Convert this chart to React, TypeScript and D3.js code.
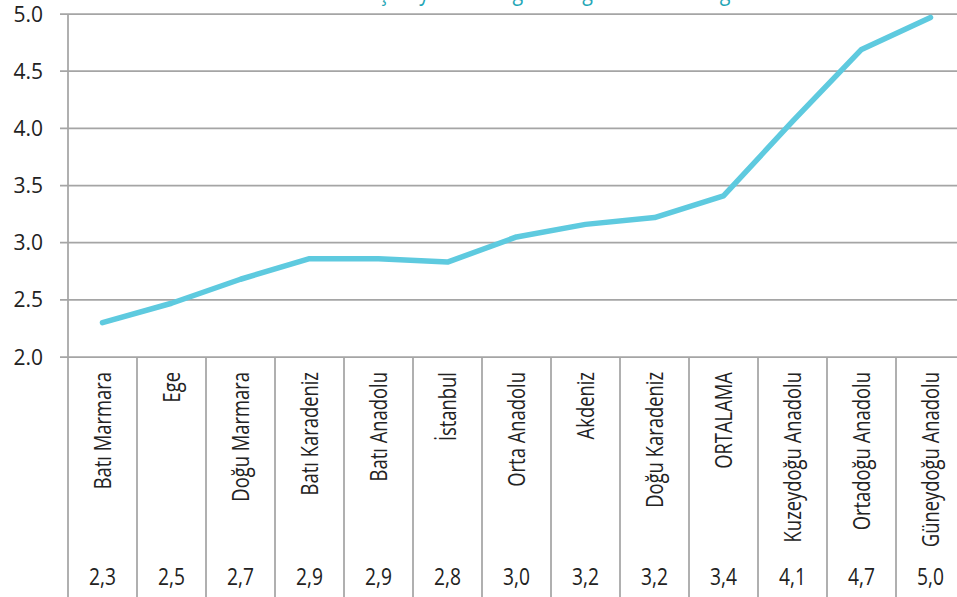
import React from "react";
import * as d3 from "d3";

const categories = [
  "Batı Marmara", "Ege", "Doğu Marmara", "Batı Karadeniz", "Batı Anadolu", "İstanbul",
  "Orta Anadolu", "Akdeniz", "Doğu Karadeniz", "ORTALAMA", "Kuzeydoğu Anadolu",
  "Ortadoğu Anadolu", "Güneydoğu Anadolu",
];
const values = [2.30, 2.47, 2.68, 2.86, 2.86, 2.83, 3.05, 3.16, 3.22, 3.41, 4.06, 4.69, 4.97];
const valueLabels = ["2,3", "2,5", "2,7", "2,9", "2,9", "2,8", "3,0", "3,2", "3,2", "3,4", "4,1", "4,7", "5,0"];
const yTicks = [2.0, 2.5, 3.0, 3.5, 4.0, 4.5, 5.0];
const title = "Kadınların İş Hayatı ve Bölgesel Algı Ortalama Değeri";

const W = 957;
const H = 597;

export default function App() {
  const x = d3.scaleBand<string>().domain(categories).range([68, 68 + 69 * categories.length]).padding(0);
  const y = d3.scaleLinear().domain([2, 5]).range([357, 14]);
  const line = d3
    .line<number>()
    .x((_, i) => (x(categories[i]) as number) + x.bandwidth() / 2)
    .y((d) => y(d));
  const grid = "#a5a5a5";
  const font = "'Open Sans', 'Noto Sans', sans-serif";
  return (
    <svg
      width={W}
      height={H}
      style={{ position: "fixed", left: 0, top: 0, background: "#fff" }}
      fontFamily={font}
    >
      <text x={515} y={0} textAnchor="middle" fontSize={24} fill="#1fa6b6" transform="translate(515,0) scale(0.82,1) translate(-515,0)">
        {title}
      </text>
      {yTicks.map((t) => (
        <g key={t}>
          <line x1={60} x2={W} y1={y(t)} y2={y(t)} stroke={grid} strokeWidth={1.75} />
          <text x={43} y={y(t)} dy="0.36em" textAnchor="end" fontSize={21} fill="#222">
            {t.toFixed(1)}
          </text>
        </g>
      ))}
      <line x1={68} x2={68} y1={y(5)} y2={H} stroke={grid} strokeWidth={1.75} />
      {categories.map((c, i) => {
        const x0 = x(c) as number;
        const cx = x0 + x.bandwidth() / 2;
        return (
          <g key={c}>
            <line x1={x0 + x.bandwidth()} x2={x0 + x.bandwidth()} y1={y(2)} y2={H} stroke={grid} strokeWidth={1.75} />
            <text
              transform={`translate(${cx},372) rotate(-90) scale(0.8,1)`}
              dy="0.36em"
              textAnchor="end"
              fontSize={23}
              fill="#222"
            >
              {c}
            </text>
            <text
              transform={`translate(${cx},585) scale(0.8,1)`}
              textAnchor="middle"
              fontSize={24}
              fill="#222"
            >
              {valueLabels[i]}
            </text>
          </g>
        );
      })}
      <path d={line(values) || ""} fill="none" stroke="#5ecadf" strokeWidth={5.5} strokeLinejoin="round" strokeLinecap="round" />
    </svg>
  );
}
